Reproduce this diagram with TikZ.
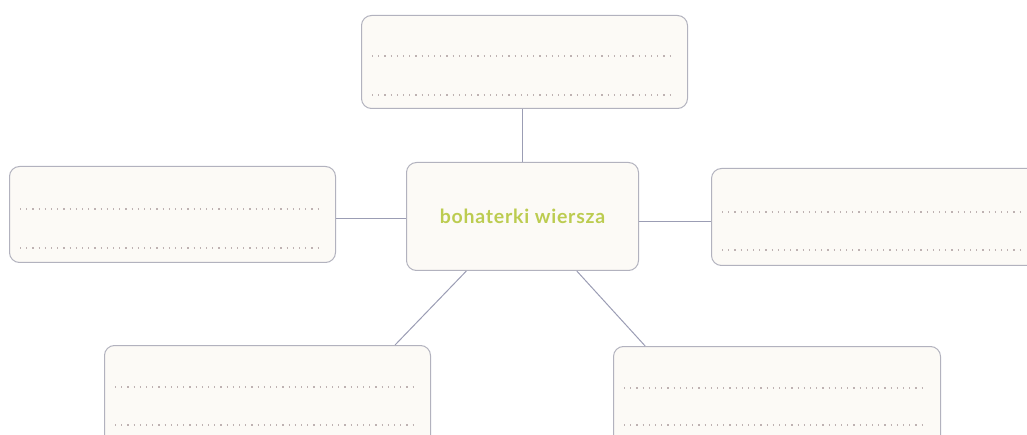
\documentclass[tikz,border=0pt]{standalone}
\usepackage{fontspec}
\setmainfont{Lato}
\usetikzlibrary{calc}
\definecolor{boxfill}{RGB}{252,250,246}
\definecolor{boxdraw}{RGB}{178,178,190}
\definecolor{linkcol}{RGB}{155,157,180}
\definecolor{dotcol}{RGB}{190,178,178}
\definecolor{titlecol}{RGB}{188,204,80}
\tikzset{
  card/.style={draw=boxdraw, fill=boxfill, line width=1pt, rounded corners=10pt, inner sep=0pt, anchor=north west},
  link/.style={draw=linkcol, line width=1pt},
  dotline/.style={draw=dotcol, line width=1.2pt, dash pattern=on 1.2pt off 5pt},
}
\begin{document}
\begin{tikzpicture}[x=1pt,y=-1pt]
\useasboundingbox (0,0) rectangle (1027,435);
\clip (0,0) rectangle (1027,435);
% boxes
\node[card, minimum width=326pt, minimum height=93pt] (top) at (361,15) {};
\node[card, minimum width=232pt, minimum height=108pt, text=titlecol,
      font=\bfseries\fontsize{19.5}{21}\selectfont\addfontfeature{LetterSpace=4}] (center) at (406,162) {bohaterki wiersza};
\node[card, minimum width=326pt, minimum height=96pt] (left) at (9,166) {};
\node[card, minimum width=326pt, minimum height=97pt] (right) at (711,168) {};
\node[card, minimum width=326pt, minimum height=110pt] (bl) at (104,345) {};
\node[card, minimum width=327pt, minimum height=110pt] (br) at (613,346) {};
% connectors
\draw[link] (top.south -| center.north) -- (center.north);
\draw[link] (left.east |- 0,219) -- (center.west |- 0,219);
\draw[link] (center.east |- 0,222) -- (right.west |- 0,222);
\draw[link] ($(center.south west)!0.259!(center.south east)$) -- ($(bl.north west)!0.89!(bl.north east)$);
\draw[link] ($(center.south west)!0.733!(center.south east)$) -- ($(br.north west)!0.098!(br.north east)$);
% dotted writing lines
\foreach \n/\a/\b in {top/41/80, left/43/82, right/44/82, bl/42/80, br/42/79}{
  \draw[dotline] ($(\n.north west)+(11,\a)$) -- ($(\n.north east)+(-15,\a)$);
  \draw[dotline] ($(\n.north west)+(11,\b)$) -- ($(\n.north east)+(-15,\b)$);
}
\end{tikzpicture}
\end{document}
